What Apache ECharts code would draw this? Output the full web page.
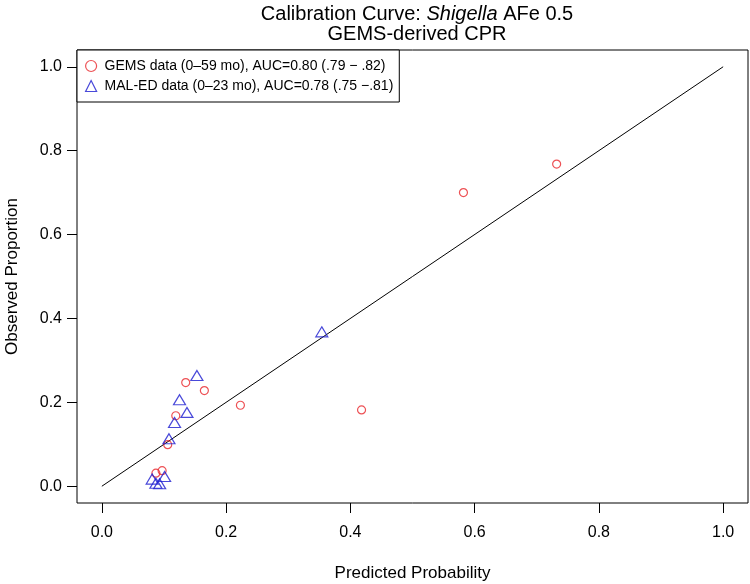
<!DOCTYPE html>
<html>
<head>
<meta charset="utf-8">
<script src="https://cdn.jsdelivr.net/npm/echarts@6/dist/echarts.min.js"></script>
<style>
html,body{margin:0;padding:0;background:#fff;}
#chart{width:750px;height:584px;}
</style>
</head>
<body>
<div id="chart"></div>
<script>
// ---- data ----
const gemsName = 'GEMS data (0\u201359 mo), AUC=0.80 (.79 \u2212 .82)';
const maledName = 'MAL-ED data (0\u201323 mo), AUC=0.78 (.75 \u2212.81)';
const gemsX = [0.732, 0.582, 0.418, 0.223, 0.165, 0.135, 0.119, 0.106, 0.097, 0.087];
const gemsY = [0.768, 0.700, 0.182, 0.193, 0.228, 0.247, 0.168, 0.099, 0.037, 0.031];
const maledX = [0.354, 0.153, 0.125, 0.137, 0.117, 0.108, 0.081, 0.087, 0.093, 0.101];
const maledY = [0.368, 0.264, 0.206, 0.176, 0.152, 0.113, 0.017, 0.007, 0.006, 0.023];
const refLine = [[0, 0], [1, 1]];
const tickValues = [0, 0.2, 0.4, 0.6, 0.8, 1.0];

const FONT = 'Liberation Sans, Arial, sans-serif';
const RED = '#e8262a';
const BLUE = '#1c1cd0';

const chart = echarts.init(document.getElementById('chart'), null, {renderer: 'canvas'});
chart.setOption({
  animation: false,
  backgroundColor: '#fff',
  textStyle: {fontFamily: FONT, color: '#000'},
  title: {
    text: '{n|Calibration Curve: }{i|Shigella}{n| AFe 0.5}\n{n|GEMS-derived CPR}',
    left: 412,
    textAlign: 'center',
    top: -1,
    textStyle: {
      fontFamily: FONT,
      fontWeight: 'normal',
      color: '#000',
      rich: {
        n: {fontSize: 20, fontFamily: FONT, color: '#000', lineHeight: 20},
        i: {fontSize: 20, fontFamily: FONT, color: '#000', fontStyle: 'italic', lineHeight: 20}
      }
    }
  },
  legend: {
    orient: 'vertical',
    left: 77,
    top: 50,
    padding: [9, 6, 9, 8],
    itemGap: 6,
    itemWidth: 11,
    itemHeight: 11,
    backgroundColor: '#fff',
    borderColor: '#000',
    borderWidth: 1,
    textStyle: {fontFamily: FONT, fontSize: 14, color: '#000', padding: [0, 0, 0, 3]},
    data: [
      {name: gemsName, icon: 'circle', itemStyle: {color: 'transparent', borderColor: RED, borderWidth: 1.2}},
      {name: maledName, icon: 'triangle', itemStyle: {color: 'transparent', borderColor: BLUE, borderWidth: 1.2}}
    ]
  },
  grid: {
    left: 77, right: 2, top: 50, bottom: 81,
    outerBoundsMode: 'none',
    containLabel: false,
    show: true, borderColor: '#000', borderWidth: 1, backgroundColor: 'transparent'
  },
  xAxis: {
    type: 'value', min: -0.04, max: 1.04,
    name: 'Predicted Probability', nameLocation: 'middle', nameGap: 62,
    nameTextStyle: {fontFamily: FONT, fontSize: 17, color: '#000'},
    axisLine: {show: false, onZero: false},
    splitLine: {show: false},
    axisTick: {show: true, length: 10, customValues: tickValues, lineStyle: {color: '#000'}},
    axisLabel: {customValues: tickValues, margin: 22, fontFamily: FONT, fontSize: 16, color: '#000',
      formatter: v => v.toFixed(1)}
  },
  yAxis: {
    type: 'value', min: -0.04, max: 1.04,
    name: 'Observed Proportion', nameLocation: 'middle', nameGap: 56,
    nameTextStyle: {fontFamily: FONT, fontSize: 17, color: '#000'},
    axisLine: {show: false, onZero: false},
    splitLine: {show: false},
    axisTick: {show: true, length: 10, customValues: tickValues, lineStyle: {color: '#000'}},
    axisLabel: {customValues: tickValues, margin: 15, fontFamily: FONT, fontSize: 16, color: '#000',
      formatter: v => v.toFixed(1)}
  },
  series: [
    {
      type: 'line', data: refLine, symbol: 'none', silent: true,
      lineStyle: {color: '#000', width: 1}, z: 1
    },
    {
      name: gemsName, type: 'scatter', symbol: 'circle', symbolSize: 8,
      data: gemsX.map((x, i) => [x, gemsY[i]]),
      itemStyle: {color: 'transparent', borderColor: RED, borderWidth: 1.2}, z: 3
    },
    {
      name: maledName, type: 'scatter', symbol: 'triangle', symbolSize: [12, 10],
      data: maledX.map((x, i) => [x, maledY[i]]),
      itemStyle: {color: 'transparent', borderColor: BLUE, borderWidth: 1.2}, z: 3
    }
  ]
});
</script>
</body>
</html>
